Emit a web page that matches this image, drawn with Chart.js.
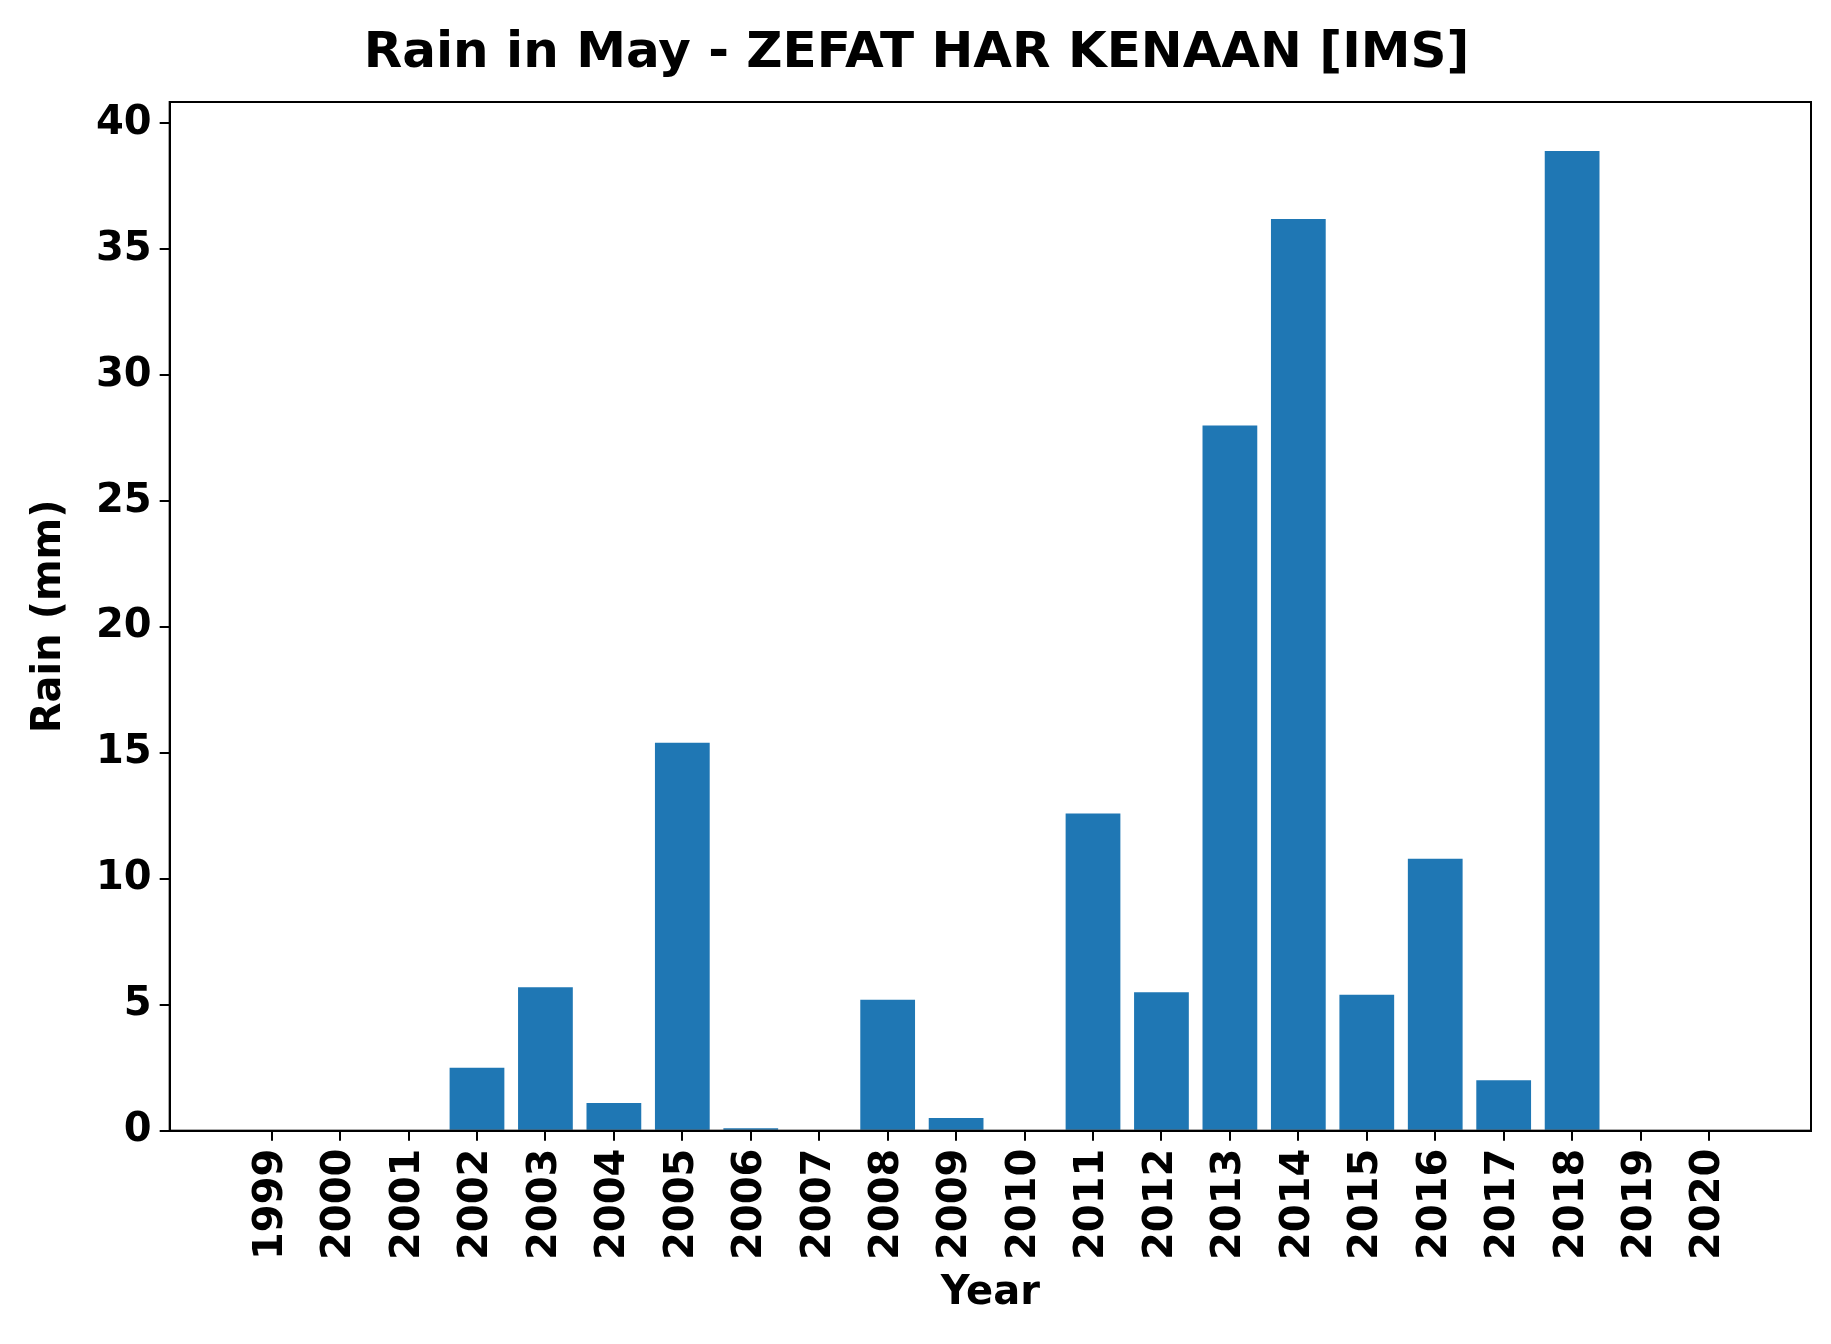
<!DOCTYPE html>
<html>
<head>
<meta charset="UTF-8">
<title>Rain in May</title>
<script src="https://cdn.jsdelivr.net/npm/chart.js@4/dist/chart.umd.min.js"></script>
<style>
  html, body { margin: 0; background: #fff; }
  #holder { width: 1831px; height: 1344px; }
</style>
</head>
<body>
<div id="holder"><canvas id="chart"></canvas></div>
<script>
var years = ['1999','2000','2001','2002','2003','2004','2005','2006','2007','2008','2009',
             '2010','2011','2012','2013','2014','2015','2016','2017','2018','2019','2020'];
var rain = [0, 0, 0, 2.5, 5.7, 1.1, 15.4, 0.1, 0, 5.2, 0.5,
            0, 12.6, 5.5, 28.0, 36.2, 5.4, 10.8, 2.0, 38.9, 0, 0];
var yTicks = [0, 5, 10, 15, 20, 25, 30, 35, 40];

var font = 'DejaVu Sans';

// top and right edges of the axes box
var frame = {
  id: 'frame',
  afterDraw: function (chart) {
    var a = chart.chartArea, c = chart.ctx;
    c.save();
    c.strokeStyle = '#000';
    c.lineWidth = 2;
    c.strokeRect(a.left, a.top, a.right - a.left, a.bottom - a.top);
    c.restore();
  }
};

var points = rain.map(function (v, i) { return { x: i, y: v }; });

window.onload = function () {
  var ctx = document.getElementById('chart').getContext('2d');
  new Chart(ctx, {
    type: 'bar',
    data: {
      datasets: [{
        data: points,
        backgroundColor: '#1f77b4',
        categoryPercentage: 1,
        barPercentage: 0.8
      }]
    },
    options: {
      responsive: true,
      maintainAspectRatio: false,
      animation: false,
      layout: { padding: { left: 22, right: 20, top: 18, bottom: 22 } },
      plugins: {
        legend: { display: false },
        tooltip: { enabled: false },
        title: {
          display: true,
          text: 'Rain in May - ZEFAT HAR KENAAN [IMS]',
          color: '#000',
          font: { family: font, size: 50, weight: 'bold' },
          padding: { top: 6, bottom: 18 }
        }
      },
      scales: {
        x: {
          type: 'linear',
          offset: false,
          min: -1.49,
          max: 22.49,
          afterBuildTicks: function (axis) {
            axis.ticks = years.map(function (y, i) { return { value: i }; });
          },
          ticks: {
            autoSkip: false,
            maxRotation: 90,
            minRotation: 90,
            color: '#000',
            padding: 8,
            font: { family: font, size: 40, weight: 'bold' },
            callback: function (v) { return years[v]; }
          },
          grid: { offset: false, drawOnChartArea: false, color: '#000', lineWidth: 2, tickLength: 10 },
          border: { color: '#000', width: 2 },
          title: {
            display: true,
            text: 'Year',
            color: '#000',
            font: { family: font, size: 40, weight: 'bold' },
            padding: { top: 2 }
          }
        },
        y: {
          min: 0,
          max: 40.85,
          afterBuildTicks: function (axis) {
            axis.ticks = yTicks.map(function (v) { return { value: v }; });
          },
          ticks: {
            color: '#000',
            padding: 8,
            font: { family: font, size: 40, weight: 'bold' }
          },
          grid: { drawOnChartArea: false, color: '#000', lineWidth: 2, tickLength: 10 },
          border: { color: '#000', width: 2 },
          title: {
            display: true,
            text: 'Rain (mm)',
            color: '#000',
            font: { family: font, size: 40, weight: 'bold' },
            padding: { bottom: 14 }
          }
        }
      }
    },
    plugins: [frame]
  });
};
</script>
</body>
</html>
